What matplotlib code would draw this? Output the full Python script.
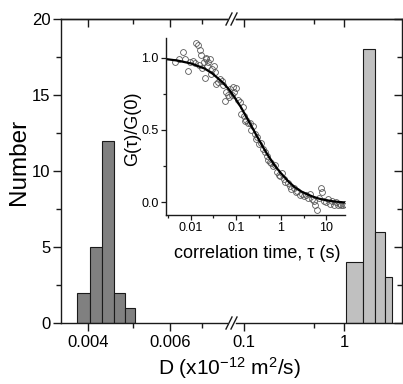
import numpy as np
import matplotlib
matplotlib.use('Agg')
import matplotlib.pyplot as plt
from matplotlib.ticker import FixedLocator, FixedFormatter, NullFormatter
from matplotlib.lines import Line2D

plt.rcParams['font.family'] = ['Liberation Sans', 'DejaVu Sans']
plt.rcParams['mathtext.fontset'] = 'custom'
plt.rcParams['mathtext.rm'] = 'Liberation Sans'
plt.rcParams['mathtext.it'] = 'Liberation Sans:italic'
plt.rcParams['mathtext.default'] = 'regular'

# ---------------- data ----------------
low_bin_edges = [0.0038, 0.00405, 0.0043, 0.00455, 0.0048, 0.00505]
low_counts = [2, 5, 12, 2, 1]
high_bin_edges = [1.05, 1.55, 2.05, 2.55, 3.05]
high_counts = [4, 18, 6, 3]

low_major_ticks = [0.004, 0.006]
low_major_labels = ['0.004', '0.006']
low_minor_ticks = [0.005, 0.007]
high_major_ticks = [0.1, 1]
high_major_labels = ['0.1', '1']
high_minor_ticks = [0.5]
y_major_ticks = [0, 5, 10, 15, 20]
y_minor_ticks = [2.5, 7.5, 12.5, 17.5]

tau_data = [0.0045, 0.0055, 0.0065, 0.0075, 0.0085, 0.0095, 0.011, 0.012, 0.013, 0.014,
            0.015, 0.016, 0.017, 0.018, 0.019, 0.02, 0.021, 0.022, 0.023, 0.024,
            0.026, 0.028, 0.03, 0.032, 0.034, 0.036, 0.04, 0.044, 0.048, 0.052,
            0.056, 0.06, 0.065, 0.07, 0.075, 0.08, 0.085, 0.09, 0.1, 0.11,
            0.12, 0.13, 0.14, 0.15, 0.16, 0.17, 0.18, 0.2, 0.22, 0.24,
            0.26, 0.28, 0.3, 0.33, 0.36, 0.4, 0.44, 0.48, 0.52, 0.56,
            0.6, 0.66, 0.72, 0.8, 0.88, 0.96, 1.05, 1.15, 1.25, 1.4,
            1.55, 1.7, 1.9, 2.1, 2.3, 2.6, 2.9, 3.2, 3.6, 4.0,
            4.4, 4.8, 5.3, 5.8, 6.4, 7.0, 7.6, 8.2, 9.0, 10,
            11, 12, 13.5, 15, 16.5, 18, 20, 22, 24, 26]
g_data = [0.97, 0.99, 1.04, 0.99, 0.91, 0.97, 0.98, 0.96, 1.10, 1.09,
          0.95, 1.05, 1.02, 0.93, 0.97, 0.86, 0.99, 1.00, 0.94, 0.97,
          0.99, 0.89, 0.92, 0.94, 0.90, 0.82, 0.83, 0.85, 0.84, 0.81,
          0.70, 0.76, 0.74, 0.73, 0.78, 0.74, 0.80, 0.76, 0.79, 0.71,
          0.69, 0.61, 0.66, 0.60, 0.56, 0.57, 0.55, 0.55, 0.50, 0.53,
          0.47, 0.44, 0.45, 0.40, 0.41, 0.37, 0.35, 0.32, 0.29, 0.28,
          0.27, 0.25, 0.26, 0.21, 0.19, 0.18, 0.20, 0.16, 0.14, 0.13,
          0.11, 0.09, 0.10, 0.07, 0.08, 0.05, 0.06, 0.04, 0.05, 0.03,
          0.06, 0.02, 0.01, -0.02, -0.05, 0.03, 0.10, 0.07, 0.01, 0.00,
          0.02, -0.01, 0.01, -0.02, 0.00, -0.02, -0.01, -0.02, -0.02, -0.01]

tau_fit = [0.0028, 0.005, 0.01, 0.02, 0.03, 0.05, 0.07, 0.1, 0.13, 0.16, 0.2, 0.25,
           0.3, 0.4, 0.5, 0.7, 1.0, 1.5, 2.0, 3.0, 5.0, 7.0, 10, 15, 20, 27]
g_fit = [0.99, 0.98, 0.96, 0.925, 0.89, 0.83, 0.78, 0.71, 0.655, 0.605, 0.55, 0.495,
         0.45, 0.38, 0.33, 0.26, 0.20, 0.14, 0.105, 0.07, 0.04, 0.025, 0.014, 0.006, 0.002, -0.002]

inset_x_ticks = [0.01, 0.1, 1, 10]
inset_x_labels = ['0.01', '0.1', '1', '10']
inset_x_minor = [0.00316, 0.0316, 0.316, 3.16]
inset_y_ticks = [0.0, 0.5, 1.0]
inset_y_labels = ['0.0', '0.5', '1.0']
inset_y_minor = [0.25, 0.75]

# ---------------- figure ----------------
W, H = 403, 384
fig = plt.figure(figsize=(W / 100, H / 100), dpi=100)


def box(x0, y0, x1, y1):
    return [x0 / W, 1 - y1 / H, (x1 - x0) / W, (y1 - y0) / H]


ax1 = fig.add_axes(box(61, 19, 227, 323))
ax2 = fig.add_axes(box(236, 19, 402, 323))

spine_c = '#1a1a1a'
for ax in (ax1, ax2):
    ax.set_xscale('log')
    ax.set_ylim(0, 20)
    for s in ax.spines.values():
        s.set_linewidth(1.0)
        s.set_color(spine_c)
    ax.yaxis.set_major_locator(FixedLocator(y_major_ticks))
    ax.yaxis.set_minor_locator(FixedLocator(y_minor_ticks))

ax1.set_xlim(0.003508, 0.007929)
ax2.set_xlim(0.0832, 3.80)

ax1.bar(low_bin_edges[:-1], low_counts, width=np.diff(low_bin_edges), align='edge',
        color='#808080', edgecolor='#1a1a1a', linewidth=0.8)
ax2.bar(high_bin_edges[:-1], high_counts, width=np.diff(high_bin_edges), align='edge',
        color='#c0c0c0', edgecolor='#1a1a1a', linewidth=0.8)

ax1.spines['right'].set_visible(False)
ax2.spines['left'].set_visible(False)

ax1.xaxis.set_major_locator(FixedLocator(low_major_ticks))
ax1.xaxis.set_major_formatter(FixedFormatter(low_major_labels))
ax1.xaxis.set_minor_locator(FixedLocator(low_minor_ticks))
ax1.xaxis.set_minor_formatter(NullFormatter())
ax2.xaxis.set_major_locator(FixedLocator(high_major_ticks))
ax2.xaxis.set_major_formatter(FixedFormatter(high_major_labels))
ax2.xaxis.set_minor_locator(FixedLocator(high_minor_ticks))
ax2.xaxis.set_minor_formatter(NullFormatter())

for ax in (ax1, ax2):
    ax.tick_params(axis='x', which='major', direction='out', length=6, width=1,
                   labelsize=12, pad=2.5, top=False, color=spine_c)
    ax.tick_params(axis='x', which='minor', direction='out', length=3.5, width=1,
                   top=False, color=spine_c)

ax1.tick_params(axis='y', which='major', direction='out', length=6, width=1,
                labelsize=12, pad=1.5, right=False, color=spine_c)
ax1.tick_params(axis='y', which='minor', direction='out', length=3.5, width=1,
                right=False, color=spine_c)
ax2.tick_params(axis='y', which='both', direction='in', left=False, right=True,
                labelleft=False, labelright=False, color=spine_c, width=1)
ax2.tick_params(axis='y', which='major', length=6)
ax2.tick_params(axis='y', which='minor', length=3.5)

# top ticks pointing inward
for ax, maj, mnr in ((ax1, low_major_ticks, low_minor_ticks), (ax2, high_major_ticks, high_minor_ticks)):
    sec = ax.secondary_xaxis('top')
    sec.xaxis.set_major_locator(FixedLocator(maj))
    sec.xaxis.set_minor_locator(FixedLocator(mnr))
    sec.xaxis.set_major_formatter(NullFormatter())
    sec.xaxis.set_minor_formatter(NullFormatter())
    sec.tick_params(axis='x', which='major', direction='in', length=6, width=1, color=spine_c)
    sec.tick_params(axis='x', which='minor', direction='in', length=3.5, width=1, color=spine_c)
    sec.spines['top'].set_linewidth(1.0)
    sec.spines['top'].set_color(spine_c)

# axis break marks
for yb in (19, 323):
    for xo in (226, 231):
        fig.add_artist(Line2D([xo / W, (xo + 6) / W], [1 - (yb + 6) / H, 1 - (yb - 6) / H],
                              color=spine_c, linewidth=1.0, transform=fig.transFigure))

fig.text(19 / W, 1 - 162 / H, 'Number', rotation=90, ha='center', va='center', fontsize=17.5)
fig.text(229 / W, 1 - 375 / H, 'D (x10$^{-12}$ m$^{2}$/s)', ha='center', va='baseline', fontsize=15)

# ---------------- inset ----------------
axi = fig.add_axes(box(165.7, 38, 345, 215))
axi.set_facecolor('none')
axi.set_xscale('log')
axi.set_xlim(0.00274, 26.4)
axi.set_ylim(-0.088, 1.136)
axi.spines['top'].set_visible(False)
axi.spines['right'].set_visible(False)
for s in ('left', 'bottom'):
    axi.spines[s].set_linewidth(1.0)
    axi.spines[s].set_color(spine_c)

axi.plot(tau_data, g_data, linestyle='none', marker='o', markersize=4.2,
         markerfacecolor='none', markeredgecolor='#5a5a5a', markeredgewidth=0.6)
axi.plot(tau_fit, g_fit, color='black', linewidth=1.6)

axi.xaxis.set_major_locator(FixedLocator(inset_x_ticks))
axi.xaxis.set_major_formatter(FixedFormatter(inset_x_labels))
axi.xaxis.set_minor_locator(FixedLocator(inset_x_minor))
axi.xaxis.set_minor_formatter(NullFormatter())
axi.yaxis.set_major_locator(FixedLocator(inset_y_ticks))
axi.yaxis.set_major_formatter(FixedFormatter(inset_y_labels))
axi.yaxis.set_minor_locator(FixedLocator(inset_y_minor))
axi.tick_params(which='major', direction='out', length=3.5, width=0.9, labelsize=9, pad=1.5, color=spine_c)
axi.tick_params(which='minor', direction='out', length=2, width=0.9, color=spine_c)

fig.text(133 / W, 1 - 129 / H, 'G(τ)/G(0)', rotation=90, ha='center', va='center', fontsize=13)
fig.text(257 / W, 1 - 253 / H, 'correlation time, τ (s)', ha='center', va='center', fontsize=13)

fig.savefig('out.png', dpi=100)
